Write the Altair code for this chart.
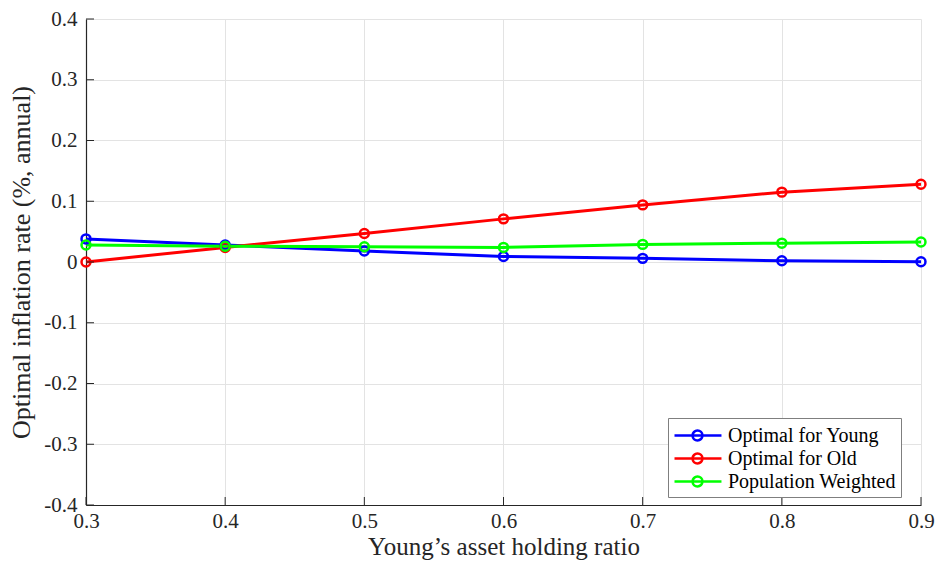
import altair as alt
import pandas as pd

x_vals = [0.3, 0.4, 0.5, 0.6, 0.7, 0.8, 0.9]
young = [0.038, 0.028, 0.018, 0.009, 0.006, 0.002, 0.0005]
old = [0.0, 0.024, 0.047, 0.071, 0.094, 0.115, 0.128]
pop = [0.028, 0.026, 0.025, 0.024, 0.029, 0.031, 0.033]
series_names = ["Optimal for Young", "Optimal for Old", "Population Weighted"]
series_colors = ["#0000ff", "#ff0000", "#00ff00"]
y_ticks = [-0.4, -0.3, -0.2, -0.1, 0.0, 0.1, 0.2, 0.3, 0.4]
x_ticks = [0.3, 0.4, 0.5, 0.6, 0.7, 0.8, 0.9]

rows = []
for name, vals in zip(series_names, [young, old, pop]):
    for xv, yv in zip(x_vals, vals):
        rows.append({"x": xv, "y": yv, "series": name})
df = pd.DataFrame(rows)

W, H = 835, 486
FONT = "Liberation Serif"

xscale = alt.Scale(domain=[0.3, 0.9], nice=False, zero=False)
yscale = alt.Scale(domain=[-0.4, 0.4], nice=False, zero=False)

sym = "M-1,0H3.27M1.54,0A0.45,0.45 0 1,1 0.64,0A0.45,0.45 0 1,1 1.54,0"

lines = alt.Chart(df).mark_line(
    strokeWidth=3,
    point=alt.OverlayMarkDef(filled=False, size=80, strokeWidth=2.5, shape="circle"),
).encode(
    x=alt.X("x:Q", scale=xscale,
            axis=alt.Axis(values=x_ticks, format=".1f", title="Young\u2019s asset holding ratio",
                          labelFont=FONT, titleFont=FONT, labelFlush=False,
                          labelPadding=5, titlePadding=3, titleFontSize=25)),
    y=alt.Y("y:Q", scale=yscale,
            axis=alt.Axis(values=y_ticks,
                          labelExpr="datum.value == 0 ? '0' : (datum.value < 0 ? '-' + format(-datum.value, '.1f') : format(datum.value, '.1f'))",
                          title="Optimal inflation rate (%, annual)",
                          labelFont=FONT, titleFont=FONT,
                          labelPadding=9, titlePadding=9)),
    color=alt.Color("series:N",
                    scale=alt.Scale(domain=series_names, range=series_colors),
                    sort=series_names,
                    legend=alt.Legend(title=None, orient="none", legendX=582, legendY=399,
                                      symbolType=sym, symbolSize=484, symbolStrokeWidth=2.5,
                                      symbolFillColor="transparent",
                                      labelFont=FONT, labelFontSize=20, labelColor="#000000",
                                      labelLimit=400,
                                      rowPadding=0, padding=5, fillColor="white",
                                      strokeColor="#7f7f7f", labelOffset=30)),
)

ytick_df = pd.DataFrame({"v": y_ticks})
xtick_df = pd.DataFrame({"v": x_ticks})

yt = alt.Chart(ytick_df).mark_rule(color="#262626", strokeWidth=1).encode(
    y=alt.Y("v:Q", scale=yscale), x=alt.value(0), x2=alt.value(8))
xt = alt.Chart(xtick_df).mark_rule(color="#262626", strokeWidth=1).encode(
    x=alt.X("v:Q", scale=xscale), y=alt.value(H), y2=alt.value(H - 8))

chart = alt.layer(lines, yt, xt).properties(
    width=W, height=H,
    autosize=alt.AutoSizeParams(type="none"),
    padding={"left": 78, "top": 11, "right": 14, "bottom": 58},
).configure(font=FONT).configure_view(stroke=None).configure_axis(
    labelFont=FONT, titleFont=FONT, labelFontSize=21, titleFontSize=26,
    labelColor="#262626", titleColor="#262626", titleFontWeight="normal",
    domainColor="#262626", domainWidth=1.2, tickSize=0,
    gridColor="#e3e3e3", gridWidth=1,
)

chart.save("out.html", embed_options={"renderer": "svg", "actions": False})
